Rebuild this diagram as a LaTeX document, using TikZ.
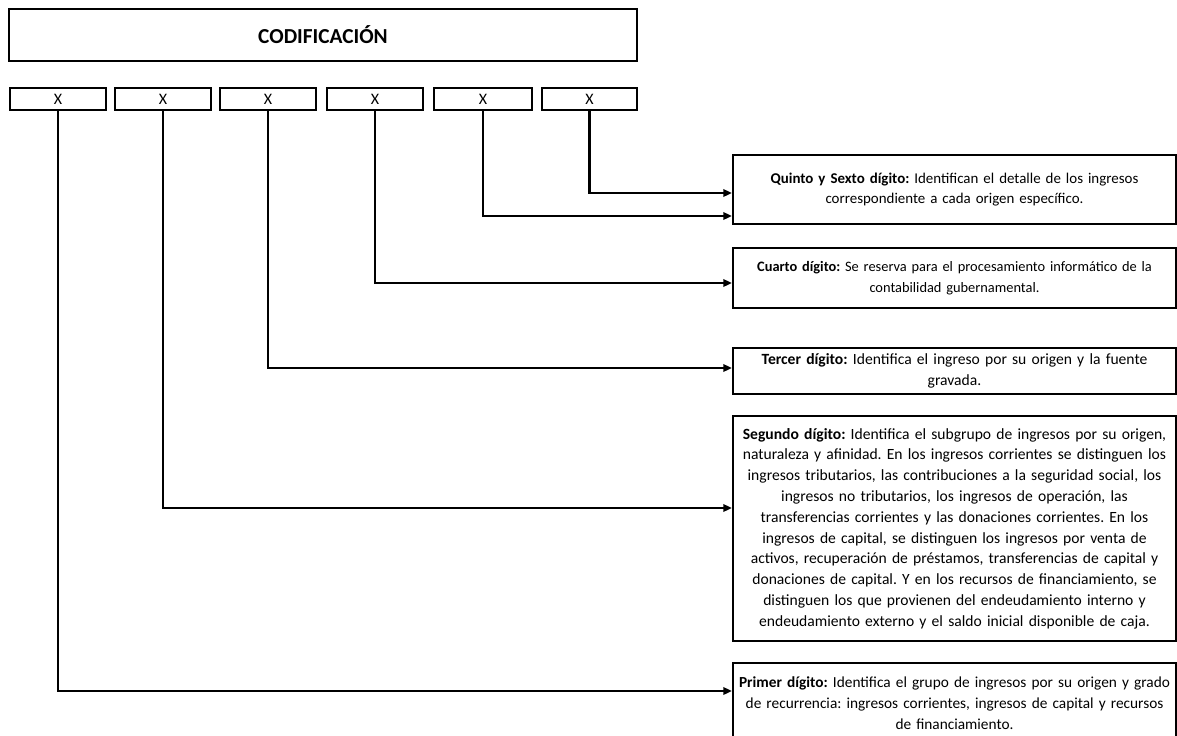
\documentclass[tikz,border=0pt]{standalone}
\usepackage{fontspec}
\setmainfont{Carlito}
\usetikzlibrary{arrows.meta}
\frenchspacing
\begin{document}
\begin{tikzpicture}[x=0.75pt,y=-0.75pt,
  frame/.style={draw=black, line width=1.5pt, fill=white, anchor=north west, inner sep=0pt},
  digitbox/.style={frame, minimum width=72pt, minimum height=16.5pt, font=\fontsize{12}{13}\selectfont},
  infobox/.style={frame, minimum width=332.25pt, align=center, font=\fontsize{11.7}{15.6}\selectfont, text width=331pt},
  conn/.style={line width=1.8pt, -{Triangle[length=6.5pt,width=5.5pt]}}]
\useasboundingbox (0,0) rectangle (1177,735);
\fill[white] (0,0) rectangle (1177,735);
% title
\node[frame, minimum width=471pt, minimum height=39pt, font=\fontsize{16}{18}\selectfont\bfseries] (title) at (8,8) {CODIFICACIÓN};
% digit boxes
\node[digitbox] (b1) at (9,87) {X};
\node[digitbox] (b2) at (114,87) {X};
\node[digitbox] (b3) at (219,87) {X};
\node[digitbox] (b4) at (326,87) {X};
\node[digitbox, minimum width=73.5pt] (b5) at (433,87) {X};
\node[digitbox, minimum width=71.25pt] (b6) at (541,87) {X};
% info boxes
\node[infobox, minimum height=51.75pt, font=\fontsize{11.2}{15.6}\selectfont] (q) at (732,154) {\textbf{Quinto y Sexto dígito:} Identifican el detalle de los ingresos\\correspondiente a cada origen específico.};
\node[infobox, minimum height=45pt, font=\fontsize{10.8}{15.6}\selectfont] (c) at (732,247) {\textbf{Cuarto dígito:} Se reserva para el procesamiento informático de la\\contabilidad gubernamental.};
\node[infobox, minimum height=34.5pt] (t) at (732,347) {\textbf{Tercer dígito:} Identifica el ingreso por su origen y la fuente\\gravada.};
\node[infobox, minimum height=168.75pt] (s) at (732,415) {\textbf{Segundo dígito:} Identifica el subgrupo de ingresos por su origen,\\naturaleza y afinidad. En los ingresos corrientes se distinguen los\\ingresos tributarios, las contribuciones a la seguridad social, los\\ingresos no tributarios, los ingresos de operación, las\\transferencias corrientes y las donaciones corrientes. En los\\ingresos de capital, se distinguen los ingresos por venta de\\activos, recuperación de préstamos, transferencias de capital y\\donaciones de capital. Y en los recursos de financiamiento, se\\distinguen los que provienen del endeudamiento interno y\\endeudamiento externo y el saldo inicial disponible de caja.};
\node[infobox, minimum height=60pt, font=\fontsize{11.5}{15.6}\selectfont] (p) at (732,662) {\textbf{Primer dígito:} Identifica el grupo de ingresos por su origen y grado\\de recurrencia: ingresos corrientes, ingresos de capital y recursos\\de financiamiento.};
% connector levels
\coordinate (y6) at (0,193);
\coordinate (y5) at (0,216);
\coordinate (y4) at (0,283);
\coordinate (y3) at (0,368);
\coordinate (y2) at (0,508);
\coordinate (y1) at (0,691);
\draw[conn] (b6.south) |- (q.west |- y6);
\draw[conn] (b5.south) |- (q.west |- y5);
\draw[conn] (b4.south) |- (c.west |- y4);
\draw[conn] (b3.south) |- (t.west |- y3);
\draw[conn] (b2.south) |- (s.west |- y2);
\draw[conn] (b1.south) |- (p.west |- y1);
\end{tikzpicture}
\end{document}
